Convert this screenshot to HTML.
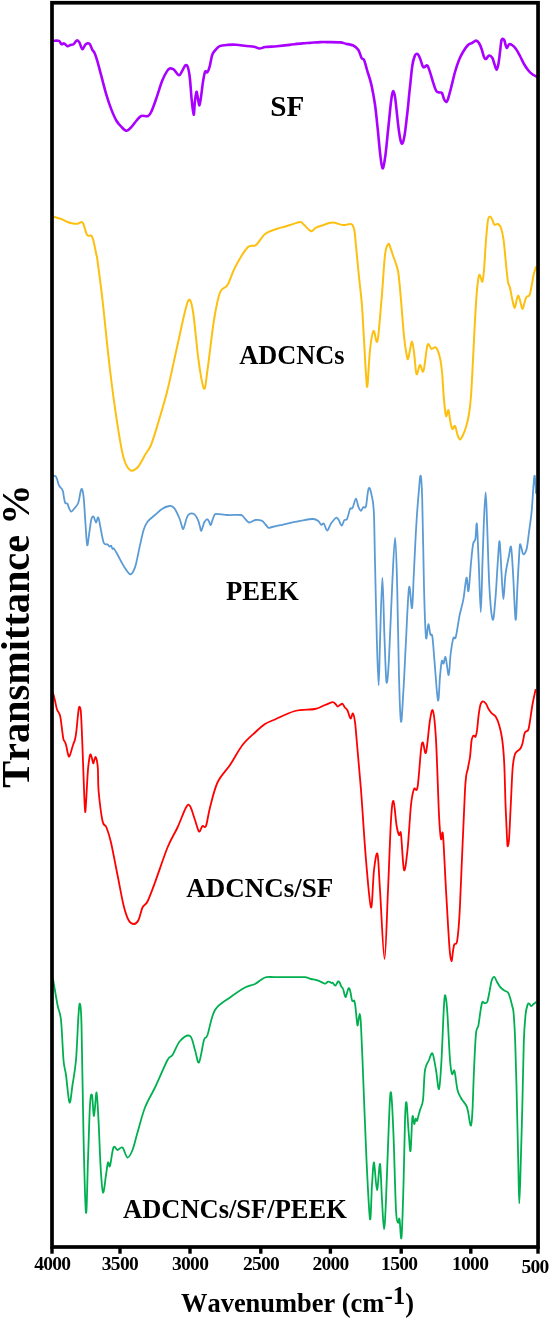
<!DOCTYPE html>
<html><head><meta charset="utf-8"><title>FTIR</title>
<style>
html,body{margin:0;padding:0;background:#fff;}
body{width:550px;height:1320px;overflow:hidden;}
svg{display:block;}
text{font-family:"Liberation Serif",serif;font-weight:bold;fill:#000;font-kerning:none;}
.c{fill:none;stroke-linejoin:round;stroke-linecap:round;}
</style></head><body>
<svg width="550" height="1320" viewBox="0 0 550 1320">
<rect x="0" y="0" width="550" height="1320" fill="#fff"/>
<path class="c" d="M53.0,40.9C54.0,40.9 57.6,40.3 59.0,40.9C60.4,41.5 60.6,43.8 61.5,44.2C62.4,44.6 63.1,43.1 64.1,43.4C65.1,43.7 66.3,46.0 67.4,46.2C68.5,46.5 69.5,45.2 70.5,44.9C71.5,44.6 72.5,45.0 73.5,44.2C74.5,43.5 75.8,40.7 76.8,40.4C77.8,40.1 78.5,40.9 79.4,42.4C80.3,43.9 81.4,49.0 82.4,49.3C83.5,49.6 84.5,45.1 85.7,44.2C86.9,43.3 88.4,42.9 89.5,43.7C90.6,44.6 91.2,47.7 92.1,49.3C92.9,50.9 93.8,51.2 94.6,53.1C95.4,55.0 96.1,57.1 97.2,60.7C98.3,64.3 99.5,69.2 101.0,74.7C102.5,80.2 104.4,88.1 106.1,93.8C107.8,99.5 109.5,104.6 111.2,109.1C112.9,113.5 114.6,117.5 116.3,120.5C118.0,123.5 119.7,125.2 121.4,126.9C123.1,128.6 124.8,130.7 126.5,130.7C128.2,130.7 129.8,128.6 131.5,126.9C133.2,125.2 135.0,122.3 136.6,120.5C138.2,118.7 139.3,116.8 141.2,116.0C143.1,115.2 146.3,116.9 148.1,116.0C149.9,115.1 150.4,113.7 151.9,110.4C153.4,107.1 155.3,101.3 157.0,96.4C158.7,91.5 160.4,85.3 162.1,81.1C163.8,76.8 165.8,73.0 167.2,70.9C168.5,68.8 169.1,68.6 170.2,68.4C171.3,68.2 172.4,68.5 173.8,69.6C175.2,70.7 177.5,75.0 178.9,75.2C180.3,75.4 181.1,72.6 182.2,70.9C183.3,69.2 184.4,65.9 185.3,65.3C186.2,64.7 187.0,64.9 187.8,67.1C188.6,69.3 189.3,73.2 189.9,78.5C190.5,83.8 191.0,92.9 191.6,98.9C192.2,104.9 193.1,114.3 193.7,114.7C194.2,115.1 194.4,105.3 194.9,101.5C195.4,97.7 196.0,92.2 196.5,91.8C197.0,91.4 197.5,96.7 198.0,98.9C198.5,101.2 199.0,105.7 199.5,105.3C200.0,104.9 200.5,100.4 201.1,96.4C201.7,92.4 202.4,85.2 203.1,81.1C203.8,77.0 204.4,73.2 205.1,71.7C205.8,70.2 206.7,73.0 207.4,72.2C208.1,71.4 208.7,69.9 209.5,67.1C210.3,64.3 211.2,58.3 212.0,55.6C212.8,52.9 213.2,52.7 214.5,51.1C215.8,49.5 217.5,47.2 219.6,46.2C221.7,45.2 224.5,45.1 227.3,44.9C230.1,44.6 233.0,44.5 236.2,44.7C239.4,44.9 243.4,45.7 246.4,46.0C249.4,46.3 251.8,46.3 254.0,46.7C256.2,47.1 257.7,48.5 259.6,48.5C261.5,48.5 262.6,47.4 265.5,47.0C268.4,46.6 272.9,46.6 276.9,46.2C280.9,45.9 285.4,45.4 289.6,44.9C293.9,44.4 299.0,43.7 302.4,43.4C305.8,43.1 307.0,43.1 310.0,42.9C313.0,42.7 316.8,42.2 320.2,42.1C323.6,42.0 327.0,42.1 330.4,42.1C333.8,42.1 338.0,42.1 340.5,42.4C343.0,42.7 343.5,43.2 345.6,43.7C347.7,44.2 351.2,44.5 353.3,45.5C355.4,46.5 357.0,47.9 358.4,50.0C359.8,52.1 360.7,56.5 361.7,58.2C362.7,59.9 363.3,58.1 364.2,60.2C365.1,62.3 366.1,67.0 367.3,70.9C368.5,74.8 369.8,78.1 371.1,83.6C372.4,89.1 373.8,96.8 374.9,104.0C376.0,111.2 376.6,118.8 377.5,126.9C378.4,135.0 379.2,145.5 380.0,152.4C380.8,159.3 381.6,167.6 382.5,168.4C383.4,169.2 384.2,163.2 385.1,157.5C386.0,151.8 386.8,142.6 387.6,134.5C388.5,126.4 389.5,115.7 390.2,109.1C390.9,102.5 391.4,98.1 392.0,95.1C392.6,92.1 392.9,90.7 393.5,91.3C394.1,91.9 394.6,93.8 395.3,98.9C396.0,104.0 397.0,115.0 397.8,121.8C398.6,128.6 399.6,136.0 400.4,139.6C401.2,143.2 401.7,144.3 402.4,143.5C403.1,142.7 403.9,139.4 404.7,134.5C405.5,129.6 406.3,121.8 407.2,114.2C408.1,106.6 408.9,96.8 409.8,88.7C410.7,80.6 411.5,71.3 412.3,65.8C413.1,60.3 414.0,57.6 414.9,55.6C415.8,53.6 416.5,53.5 417.4,53.9C418.2,54.3 419.0,56.0 420.0,58.2C421.0,60.4 422.1,65.9 423.3,67.1C424.5,68.3 426.1,64.7 427.1,65.3C428.2,65.9 428.5,67.9 429.6,70.9C430.7,74.0 432.4,80.2 433.5,83.6C434.6,87.0 435.4,89.8 436.5,91.3C437.6,92.8 438.9,92.2 439.8,92.5C440.7,92.8 441.3,91.9 442.0,93.0C442.7,94.1 443.3,97.5 444.0,99.0C444.7,100.5 445.3,102.0 446.0,102.0C446.7,102.0 447.2,101.3 448.0,99.0C448.8,96.7 449.8,92.5 451.0,88.0C452.2,83.5 453.7,76.7 455.0,72.0C456.3,67.3 457.7,63.3 459.0,60.0C460.3,56.7 461.5,54.5 463.0,52.0C464.5,49.5 466.5,46.5 468.0,45.0C469.5,43.5 470.7,43.7 472.0,43.0C473.3,42.3 474.8,40.6 476.0,40.6C477.2,40.6 478.1,41.6 479.0,43.0C479.9,44.4 480.8,46.7 481.6,49.0C482.4,51.3 483.3,55.3 484.0,57.0C484.7,58.7 485.2,59.2 486.0,59.0C486.8,58.8 487.9,55.8 489.0,55.6C490.1,55.4 491.5,56.6 492.4,58.0C493.3,59.4 493.7,62.1 494.4,64.0C495.1,65.9 495.9,69.6 496.6,69.6C497.3,69.6 497.8,66.9 498.4,64.0C499.0,61.1 499.5,56.0 500.0,52.0C500.5,48.0 500.9,42.1 501.6,40.0C502.3,37.9 503.3,38.8 504.0,39.6C504.7,40.4 505.1,43.6 505.6,45.0C506.1,46.4 506.4,48.1 507.0,48.0C507.6,47.9 508.2,44.9 509.0,44.4C509.8,43.9 510.8,44.2 512.0,45.0C513.2,45.8 514.7,47.2 516.0,49.0C517.3,50.8 518.7,53.5 520.0,56.0C521.3,58.5 522.7,61.7 524.0,64.0C525.3,66.3 526.7,68.3 528.0,70.0C529.3,71.7 530.6,72.9 532.0,74.0C533.4,75.1 535.7,76.2 536.4,76.6" stroke="#AA00FF" stroke-width="2.6"/>
<path class="c" d="M53.0,216.5C54.6,217.0 60.2,218.7 62.5,219.6C64.8,220.5 65.3,221.2 66.8,221.8C68.3,222.4 69.9,222.9 71.7,223.2C73.5,223.5 76.1,223.9 77.7,223.7C79.3,223.5 80.6,222.1 81.5,222.1C82.4,222.1 82.7,222.4 83.2,223.5C83.8,224.6 84.2,226.5 84.8,228.4C85.4,230.3 86.4,233.7 87.0,234.9C87.6,236.1 88.0,235.7 88.6,235.8C89.2,235.9 90.1,235.2 90.8,235.5C91.5,235.8 92.0,236.2 92.5,237.6C93.0,238.9 93.5,240.8 94.1,243.6C94.7,246.4 95.8,251.8 96.3,254.5C96.8,257.2 96.4,252.4 97.4,260.0C98.4,267.6 100.4,281.7 102.5,300.0C104.6,318.3 107.5,349.2 110.0,370.0C112.5,390.8 115.2,410.4 117.5,425.0C119.8,439.6 121.4,450.0 123.5,457.5C125.6,465.0 127.7,468.3 130.0,470.0C132.3,471.7 135.0,470.0 137.5,467.5C140.0,465.0 142.8,458.8 145.0,455.0C147.2,451.2 148.9,450.0 151.0,445.0C153.1,440.0 154.8,434.2 157.5,425.0C160.2,415.8 164.2,403.3 167.5,390.0C170.8,376.7 174.4,358.8 177.5,345.0C180.6,331.2 183.9,315.0 186.0,307.5C188.1,300.0 188.8,298.8 190.0,300.0C191.2,301.2 192.1,305.0 193.5,315.0C194.9,325.0 196.8,347.8 198.5,360.0C200.2,372.2 202.5,386.8 204.0,388.5C205.5,390.2 205.8,381.4 207.5,370.0C209.2,358.6 211.9,332.9 214.0,320.0C216.1,307.1 217.8,298.3 220.0,292.5C222.2,286.7 225.0,289.2 227.5,285.0C230.0,280.8 231.7,273.8 235.0,267.5C238.3,261.2 244.0,251.2 247.5,247.5C251.0,243.8 253.1,247.2 256.0,245.0C258.9,242.8 261.8,236.6 265.0,234.0C268.2,231.4 272.5,230.5 275.0,229.5C277.5,228.5 277.5,228.7 280.0,227.9C282.5,227.2 286.7,226.0 290.0,225.0C293.3,224.0 297.9,222.3 300.0,222.0C302.1,221.7 300.9,221.9 302.7,223.4C304.5,224.9 308.8,230.4 310.9,231.2C313.0,231.9 313.6,228.8 315.5,227.9C317.4,227.0 319.2,226.4 322.0,225.5C324.8,224.6 329.1,222.7 332.5,222.6C335.9,222.5 339.6,224.8 342.5,225.0C345.4,225.2 348.3,224.0 350.0,224.0C351.7,224.0 351.8,223.8 352.5,225.0C353.2,226.2 353.9,227.5 354.5,231.0C355.1,234.5 355.2,238.3 356.0,246.0C356.8,253.7 358.0,267.0 359.0,277.0C360.0,287.0 361.2,295.5 362.0,306.0C362.8,316.5 363.3,328.7 364.0,340.0C364.7,351.3 365.4,366.3 366.0,374.0C366.6,381.7 366.7,390.0 367.4,386.0C368.1,382.0 369.0,359.2 370.0,350.0C371.0,340.8 372.2,332.5 373.5,331.0C374.8,329.5 376.2,346.2 377.5,341.0C378.8,335.8 380.2,314.3 381.5,300.0C382.8,285.7 383.9,264.3 385.0,255.0C386.1,245.7 387.4,245.2 388.3,244.0C389.2,242.8 389.7,246.1 390.5,248.0C391.3,249.9 392.1,252.8 393.0,255.5C393.9,258.2 395.1,260.9 396.0,264.0C396.9,267.1 397.7,268.0 398.5,274.0C399.3,280.0 400.1,289.7 401.0,300.0C401.9,310.3 403.1,327.0 404.0,336.0C404.9,345.0 405.8,350.2 406.5,354.0C407.2,357.8 407.4,359.7 408.0,359.0C408.6,358.3 409.3,352.9 410.0,350.0C410.7,347.1 411.3,341.3 412.0,341.6C412.7,341.9 413.2,346.6 414.0,352.0C414.8,357.4 415.5,371.8 416.5,374.0C417.5,376.2 418.8,365.5 420.0,365.0C421.2,364.5 422.2,374.3 423.5,371.0C424.8,367.7 426.2,348.7 427.5,345.0C428.8,341.3 430.1,348.6 431.5,349.0C432.9,349.4 434.6,346.0 436.0,347.5C437.4,349.0 439.0,353.9 440.0,358.0C441.0,362.1 441.3,365.0 442.0,372.0C442.7,379.0 443.3,392.7 444.0,400.0C444.7,407.3 445.3,414.3 446.0,416.0C446.7,417.7 447.7,409.0 448.4,410.0C449.1,411.0 449.7,418.8 450.4,422.0C451.1,425.2 451.6,428.3 452.4,429.0C453.2,429.7 454.1,425.0 455.0,426.0C455.9,427.0 456.8,432.8 457.6,435.0C458.4,437.2 459.1,439.4 460.0,439.4C460.9,439.4 462.0,437.1 463.0,435.0C464.0,432.9 465.0,430.5 466.0,427.0C467.0,423.5 468.2,419.2 469.0,414.0C469.8,408.8 470.3,405.0 471.0,396.0C471.7,387.0 472.3,372.7 473.0,360.0C473.7,347.3 474.3,331.7 475.0,320.0C475.7,308.3 476.3,297.4 477.0,290.0C477.7,282.6 478.4,277.8 479.0,275.6C479.6,273.4 480.0,276.0 480.6,277.0C481.2,278.0 481.8,282.8 482.4,281.6C483.0,280.4 483.4,276.9 484.0,270.0C484.6,263.1 485.3,248.3 486.0,240.0C486.7,231.7 487.3,223.9 488.0,220.0C488.7,216.1 489.3,216.8 490.0,216.6C490.7,216.4 491.3,217.7 492.0,219.0C492.7,220.3 493.4,223.8 494.4,224.6C495.4,225.4 496.9,223.4 498.0,224.0C499.1,224.6 500.1,225.3 501.0,228.0C501.9,230.7 502.8,234.0 503.6,240.0C504.4,246.0 505.3,257.0 506.0,264.0C506.7,271.0 507.3,278.0 508.0,282.0C508.7,286.0 509.3,285.0 510.0,288.0C510.7,291.0 511.6,296.7 512.4,300.0C513.2,303.3 513.9,308.0 514.6,308.0C515.3,308.0 516.0,302.1 516.6,300.0C517.2,297.9 517.8,295.3 518.4,295.6C519.0,295.9 519.7,299.8 520.4,302.0C521.1,304.2 521.7,308.8 522.4,309.0C523.1,309.2 523.7,305.0 524.4,303.0C525.1,301.0 525.5,298.3 526.4,297.0C527.3,295.7 528.7,296.8 529.6,295.0C530.5,293.2 530.9,289.3 531.6,286.0C532.3,282.7 532.9,278.2 533.6,275.0C534.3,271.8 535.6,268.3 536.0,267.0" stroke="#FDC010" stroke-width="2"/>
<path class="c" d="M53.0,475.8C53.4,475.9 54.7,475.6 55.4,476.1C56.1,476.6 56.5,477.6 57.0,479.0C57.5,480.4 58.1,483.1 58.6,484.5C59.1,485.9 59.8,486.6 60.3,487.3C60.8,488.0 61.4,488.2 61.9,488.9C62.4,489.6 62.6,490.1 63.0,491.6C63.4,493.2 63.7,496.3 64.1,498.2C64.5,500.1 64.7,502.1 65.2,503.0C65.8,503.9 66.8,502.8 67.4,503.6C68.0,504.4 68.4,506.7 69.0,508.0C69.6,509.3 70.2,511.6 71.2,511.6C72.2,511.6 73.5,509.4 74.7,508.0C75.9,506.6 77.2,505.7 78.2,503.0C79.2,500.3 79.9,494.3 80.5,492.0C81.1,489.7 81.5,488.1 82.0,489.1C82.5,490.1 83.1,492.0 83.7,497.8C84.3,503.6 84.9,516.1 85.5,524.0C86.1,531.9 86.6,543.8 87.2,545.2C87.8,546.7 88.6,537.0 89.3,532.7C90.0,528.4 90.6,522.3 91.3,519.6C92.0,516.9 92.8,516.2 93.6,516.7C94.4,517.2 95.2,522.4 96.0,522.5C96.8,522.6 97.5,516.4 98.3,517.6C99.1,518.8 100.0,525.6 100.9,529.8C101.8,534.0 102.7,540.5 103.8,542.9C104.9,545.3 106.7,543.8 107.6,544.4C108.5,545.0 108.7,546.3 109.3,546.5C109.9,546.7 110.6,545.4 111.1,545.8C111.6,546.2 112.0,548.3 112.5,548.8C113.0,549.3 113.2,547.8 114.0,548.7C114.8,549.7 116.3,552.3 117.5,554.5C118.7,556.7 120.0,559.4 121.3,561.8C122.6,564.2 124.1,567.0 125.6,569.1C127.0,571.2 128.8,573.8 130.0,574.3C131.2,574.8 131.9,573.6 132.9,572.0C133.9,570.4 134.6,569.3 135.8,564.7C137.0,560.1 138.9,550.2 140.2,544.4C141.5,538.6 142.5,533.6 143.7,529.8C144.9,526.0 145.7,524.1 147.5,521.7C149.3,519.3 152.3,517.4 154.7,515.3C157.1,513.2 159.6,510.4 162.0,508.9C164.4,507.3 167.5,506.3 169.3,506.0C171.1,505.7 172.0,506.3 173.0,507.0C174.0,507.7 174.4,508.1 175.5,510.0C176.6,511.9 178.5,516.0 179.5,518.5C180.5,521.0 180.9,523.2 181.5,525.0C182.1,526.8 182.6,529.4 183.2,529.2C183.8,529.0 184.4,525.9 185.0,524.0C185.6,522.1 186.0,519.6 186.7,518.0C187.4,516.4 187.8,514.9 189.0,514.2C190.2,513.5 192.5,513.1 194.0,514.0C195.5,514.9 196.8,517.6 197.8,519.6C198.8,521.6 199.2,524.1 199.8,526.0C200.4,527.9 200.6,531.3 201.3,530.7C202.0,530.1 203.3,524.4 204.2,522.5C205.1,520.6 206.0,519.5 206.8,519.3C207.6,519.0 208.2,520.0 208.8,521.0C209.5,522.0 210.1,525.3 210.7,525.2C211.3,525.1 211.8,522.0 212.3,520.5C212.9,519.0 213.3,517.1 214.0,516.0C214.7,514.9 214.0,514.0 216.3,513.8C218.6,513.6 223.6,514.8 227.7,515.0C231.8,515.2 238.1,514.6 240.8,515.0C243.5,515.4 242.7,516.4 244.1,517.6C245.5,518.9 247.1,522.1 249.0,522.5C250.9,522.9 253.3,520.3 255.5,520.0C257.7,519.7 260.4,520.1 262.1,520.9C263.8,521.6 264.4,523.4 265.5,524.5C266.6,525.6 267.5,527.4 268.6,527.8C269.7,528.2 270.1,527.4 272.0,527.0C273.9,526.6 277.1,525.9 280.1,525.2C283.2,524.5 286.5,523.7 290.3,522.9C294.1,522.1 299.2,520.9 303.0,520.3C306.8,519.6 310.6,518.9 313.2,519.0C315.8,519.1 316.9,520.1 318.3,521.1C319.7,522.1 320.4,524.5 321.3,524.9C322.2,525.3 322.9,522.7 323.9,523.6C324.9,524.5 326.0,530.5 327.2,530.5C328.4,530.5 329.5,525.7 331.0,523.6C332.5,521.5 334.8,518.4 336.1,517.8C337.4,517.2 337.7,518.5 338.6,519.8C339.5,521.1 340.8,525.6 341.7,525.7C342.6,525.8 343.3,521.4 344.2,520.3C345.1,519.2 346.0,520.9 347.0,519.0C348.0,517.1 349.2,510.8 350.1,508.9C351.0,507.0 351.6,509.6 352.6,507.9C353.6,506.2 354.9,498.8 355.9,498.7C356.9,498.6 357.6,505.1 358.5,507.1C359.4,509.1 360.2,510.9 361.0,510.9C361.8,510.9 362.5,507.8 363.3,507.1C364.1,506.4 365.1,509.2 365.9,506.6C366.7,504.1 367.3,494.9 367.9,491.8C368.5,488.7 368.8,487.4 369.4,488.0C370.0,488.6 371.0,491.8 371.7,495.6C372.4,499.4 373.2,499.9 373.8,510.9C374.4,521.9 374.5,540.6 375.0,561.8C375.5,583.0 376.2,617.6 376.8,638.2C377.4,658.8 378.1,685.3 378.6,685.3C379.2,685.3 379.5,656.2 380.1,638.2C380.7,620.2 381.7,577.6 382.4,577.6C383.1,577.6 383.8,620.8 384.5,638.2C385.2,655.6 385.8,678.8 386.5,682.2C387.2,685.6 388.1,674.3 389.0,658.5C389.9,642.7 391.1,607.4 392.1,587.3C393.1,567.1 394.2,537.6 395.1,537.6C396.0,537.6 396.6,564.2 397.2,587.3C397.8,610.4 398.4,654.0 399.0,676.4C399.6,698.8 400.2,719.6 401.0,721.7C401.8,723.8 402.6,703.0 403.5,689.1C404.4,675.2 405.2,655.2 406.1,638.2C407.0,621.2 408.1,592.3 409.1,587.3C410.1,582.3 411.2,610.2 412.0,608.1C412.8,606.0 413.1,588.6 413.8,574.5C414.5,560.4 415.5,537.6 416.4,523.6C417.2,509.6 418.2,498.5 418.9,490.5C419.6,482.5 420.1,474.5 420.7,475.8C421.2,477.1 421.6,479.6 422.2,498.2C422.8,516.8 423.4,564.1 424.0,587.3C424.6,610.5 425.3,631.2 426.0,637.4C426.7,643.5 427.6,624.7 428.3,624.2C429.0,623.7 429.7,632.3 430.4,634.4C431.1,636.5 431.7,632.0 432.4,636.9C433.1,641.8 433.8,653.0 434.7,663.6C435.6,674.2 437.1,698.4 438.0,700.5C438.9,702.6 439.4,683.0 440.0,676.4C440.6,669.8 441.2,663.2 441.8,661.1C442.4,659.0 443.0,664.2 443.6,663.6C444.2,663.0 444.8,655.4 445.6,657.3C446.5,659.2 447.9,675.7 448.7,675.1C449.5,674.5 449.9,659.6 450.7,653.5C451.5,647.4 452.4,641.0 453.3,638.2C454.2,635.4 454.8,640.7 455.8,636.9C456.9,633.1 458.3,621.7 459.6,615.3C460.9,608.9 462.4,605.0 463.5,598.7C464.6,592.4 465.7,578.9 466.5,577.6C467.3,576.3 467.7,593.7 468.5,591.1C469.3,588.5 470.3,569.6 471.1,561.8C471.9,553.9 472.4,547.8 473.1,544.0C473.8,540.2 474.8,542.2 475.4,538.9C476.0,535.6 476.3,520.3 476.9,524.1C477.4,527.9 478.0,547.1 478.7,561.8C479.4,576.5 480.2,612.2 480.8,612.2C481.4,612.2 482.0,576.6 482.5,561.8C483.0,547.0 483.3,535.2 483.8,523.6C484.3,512.0 485.1,492.3 485.6,492.3C486.2,492.3 486.5,507.8 487.1,523.6C487.7,539.4 488.5,571.3 489.4,587.3C490.3,603.3 491.7,617.5 492.7,619.6C493.7,621.7 494.4,609.6 495.3,600.0C496.2,590.4 497.1,571.5 497.8,561.8C498.5,552.0 499.0,539.4 499.6,541.5C500.2,543.6 501.0,564.9 501.6,574.5C502.2,584.1 502.8,599.2 503.4,599.2C504.0,599.2 504.6,581.6 505.5,574.5C506.4,567.4 507.9,561.3 508.8,556.7C509.7,552.1 510.4,544.1 511.1,547.1C511.8,550.1 512.4,562.4 513.1,574.5C513.9,586.6 514.9,617.5 515.6,619.6C516.3,621.7 516.8,599.0 517.4,587.3C518.0,575.5 519.0,556.1 519.5,549.1C520.0,542.1 520.1,544.4 520.7,545.3C521.3,546.1 522.3,553.6 523.3,554.2C524.3,554.8 525.6,552.9 526.6,549.1C527.6,545.3 528.2,537.7 529.1,531.3C530.0,524.9 531.0,518.5 531.7,510.9C532.4,503.3 533.0,491.4 533.5,485.5C534.0,479.6 534.3,474.6 534.7,475.8C535.1,477.1 535.8,490.1 536.0,493.0" stroke="#5B9BD5" stroke-width="1.8"/>
<path class="c" d="M53.0,693.0C53.1,693.4 53.3,693.8 53.7,695.4C54.1,697.0 54.9,700.1 55.4,702.5C55.9,704.9 56.4,707.7 57.0,709.5C57.6,711.3 58.7,712.2 59.2,713.4C59.8,714.6 59.9,714.8 60.3,716.6C60.7,718.4 61.0,721.6 61.4,724.3C61.8,727.0 62.1,730.5 62.5,733.0C62.9,735.5 63.0,738.0 63.5,739.5C64.0,741.0 64.7,741.2 65.2,742.3C65.7,743.4 65.9,744.6 66.3,746.1C66.7,747.6 67.0,749.8 67.4,751.5C67.8,753.2 68.3,756.0 68.8,756.5C69.2,757.0 69.6,756.0 70.1,754.8C70.6,753.6 71.2,751.2 71.7,749.4C72.2,747.6 72.9,745.5 73.4,743.9C74.0,742.2 74.5,741.7 75.0,739.5C75.5,737.3 76.0,734.4 76.4,730.8C76.9,727.2 77.3,721.4 77.7,717.7C78.1,714.0 78.5,710.3 78.8,708.5C79.1,706.7 79.4,706.5 79.7,706.8C80.0,707.1 80.4,707.4 80.7,710.1C81.0,712.8 81.2,716.5 81.5,723.2C81.8,729.9 82.3,742.3 82.6,750.5C82.9,758.7 83.1,764.5 83.4,772.3C83.7,780.0 84.0,790.4 84.3,797.0C84.6,803.6 84.9,811.5 85.2,812.0C85.5,812.5 85.8,806.6 86.2,800.0C86.6,793.4 87.3,778.7 87.8,772.3C88.2,765.9 88.6,764.2 88.9,761.4C89.2,758.6 89.6,756.5 89.9,755.4C90.2,754.3 90.5,754.1 90.8,754.6C91.1,755.1 91.5,756.7 91.9,758.1C92.3,759.5 92.8,763.1 93.2,763.3C93.7,763.5 94.2,760.2 94.6,759.2C95.0,758.2 95.3,756.8 95.7,757.0C96.1,757.2 96.4,758.3 96.8,760.3C97.2,762.3 97.6,764.0 97.9,769.0C98.2,774.0 97.9,781.3 98.5,790.0C99.3,798.7 101.2,814.8 102.5,821.0C103.8,827.2 105.1,823.9 106.5,827.5C107.9,831.1 109.2,834.6 111.0,842.5C112.8,850.4 115.4,864.6 117.5,875.0C119.6,885.4 121.7,897.5 123.5,905.0C125.3,912.5 126.8,916.8 128.5,920.0C130.2,923.2 132.3,924.0 134.0,924.0C135.7,924.0 137.1,922.8 138.5,920.0C139.9,917.2 141.0,910.6 142.5,907.5C144.0,904.4 145.4,905.7 147.5,901.5C149.6,897.3 151.7,891.5 155.0,882.5C158.3,873.5 163.8,856.7 167.5,847.5C171.2,838.3 174.4,834.2 177.5,827.5C180.6,820.8 183.9,811.1 186.0,807.5C188.1,803.9 188.5,803.9 190.0,806.0C191.5,808.1 193.5,815.8 195.0,820.0C196.5,824.2 197.8,830.5 199.0,831.5C200.2,832.5 201.3,826.9 202.5,826.0C203.7,825.1 204.8,829.1 206.0,826.0C207.2,822.9 208.1,814.8 210.0,807.5C211.9,800.2 214.2,789.6 217.5,782.5C220.8,775.4 225.8,771.2 230.0,765.0C234.2,758.8 238.3,750.4 242.5,745.0C246.7,739.6 251.2,736.0 255.0,732.5C258.8,729.0 261.7,726.2 265.0,724.0C268.3,721.8 270.0,721.7 275.0,719.5C280.0,717.3 288.3,712.8 295.0,711.0C301.7,709.2 310.0,710.0 315.0,709.0C320.0,708.0 322.1,706.1 325.0,705.0C327.9,703.9 330.8,702.4 332.5,702.2C334.2,702.0 334.7,703.3 335.5,704.0C336.3,704.7 336.8,706.3 337.5,706.5C338.2,706.7 339.2,705.5 340.0,705.0C340.8,704.5 341.8,703.5 342.5,703.8C343.2,704.1 343.7,705.9 344.5,707.0C345.3,708.1 346.5,708.6 347.5,710.5C348.5,712.4 349.6,718.0 350.5,718.5C351.4,719.0 352.2,712.8 353.0,713.4C353.8,714.0 354.4,717.9 355.0,722.0C355.6,726.1 355.5,726.7 356.5,738.0C357.5,749.3 359.4,769.7 361.0,790.0C362.6,810.3 364.3,840.4 366.0,860.0C367.7,879.6 369.7,905.8 371.0,907.5C372.3,909.2 372.9,878.9 374.0,870.0C375.1,861.1 376.5,850.7 377.5,854.0C378.5,857.3 378.8,872.5 380.0,890.0C381.2,907.5 383.2,959.0 384.5,959.0C385.8,959.0 386.9,913.2 388.0,890.0C389.1,866.8 390.1,834.8 391.0,820.0C391.9,805.2 392.6,800.2 393.5,801.0C394.4,801.8 395.6,819.3 396.5,825.0C397.4,830.7 398.2,833.5 399.0,835.0C399.8,836.5 400.2,828.2 401.0,834.0C401.8,839.8 402.9,867.3 404.0,870.0C405.1,872.7 406.3,860.8 407.5,850.0C408.7,839.2 409.9,815.2 411.0,805.0C412.1,794.8 412.9,791.9 414.0,789.0C415.1,786.1 416.3,794.0 417.5,787.5C418.7,781.0 420.1,757.5 421.0,750.0C421.9,742.5 422.2,742.1 423.0,742.5C423.8,742.9 424.8,756.2 426.0,752.5C427.2,748.8 428.8,726.9 430.0,720.0C431.2,713.1 432.0,707.7 433.0,711.0C434.0,714.3 435.0,722.7 436.0,740.0C437.0,757.3 438.2,798.5 439.0,815.0C439.8,831.5 440.3,835.7 441.0,839.0C441.7,842.3 442.2,826.5 443.0,835.0C443.8,843.5 444.9,871.2 446.0,890.0C447.1,908.8 448.6,936.2 449.5,948.0C450.4,959.8 450.9,960.5 451.5,961.0C452.1,961.5 452.5,953.8 453.0,951.0C453.5,948.2 453.7,945.8 454.3,944.5C454.9,943.2 456.0,944.8 456.6,943.0C457.2,941.2 457.4,940.3 458.0,934.0C458.6,927.7 458.8,929.0 460.0,905.0C461.2,881.0 463.7,812.8 465.0,790.0C466.3,767.2 467.2,773.5 468.0,768.0C468.8,762.5 469.4,761.5 470.0,757.0C470.6,752.5 471.0,744.5 471.5,741.0C472.0,737.5 472.4,737.2 472.9,736.3C473.4,735.4 474.0,735.7 474.4,735.8C474.8,735.9 475.1,737.6 475.5,736.8C475.9,735.9 476.5,734.4 477.0,730.7C477.5,727.0 478.1,719.1 478.7,714.7C479.3,710.3 479.8,706.7 480.5,704.5C481.2,702.3 482.2,701.4 483.1,701.3C484.0,701.2 485.0,702.4 486.0,703.8C487.0,705.2 487.9,708.0 488.9,709.6C489.9,711.2 490.6,712.1 491.8,713.3C493.0,714.5 494.7,715.0 495.9,716.9C497.1,718.8 498.1,721.4 499.1,724.9C500.1,728.4 501.1,731.7 502.0,738.0C502.9,744.3 503.6,751.3 504.2,762.7C504.8,774.1 505.1,793.5 505.6,806.4C506.1,819.2 506.7,833.1 507.1,839.8C507.5,846.5 507.5,846.4 507.8,846.4C508.1,846.4 508.5,846.5 509.0,839.8C509.5,833.1 510.1,818.0 510.7,806.4C511.3,794.8 511.9,778.4 512.5,770.0C513.1,761.6 513.7,759.2 514.4,756.2C515.1,753.2 515.5,753.0 516.5,751.8C517.5,750.6 519.2,750.2 520.2,748.9C521.2,747.6 521.7,746.3 522.4,743.8C523.1,741.2 523.9,735.6 524.5,733.6C525.1,731.6 525.4,732.1 526.0,731.5C526.6,730.9 527.6,731.3 528.2,730.0C528.8,728.7 528.9,727.8 529.6,723.5C530.3,719.2 531.5,710.1 532.5,704.5C533.5,698.9 535.0,692.4 535.5,690.0" stroke="#FF0000" stroke-width="1.8"/>
<path class="c" d="M53.0,979.0C53.8,983.3 56.2,998.2 57.5,1005.0C58.8,1011.8 60.0,1010.8 61.0,1020.0C62.0,1029.2 62.7,1050.8 63.5,1060.0C64.3,1069.2 65.0,1067.9 66.0,1075.0C67.0,1082.1 68.4,1100.8 69.5,1102.5C70.6,1104.2 71.4,1092.1 72.5,1085.0C73.6,1077.9 75.0,1071.7 76.0,1060.0C77.0,1048.3 77.8,1024.3 78.5,1015.0C79.2,1005.7 79.5,1002.3 80.0,1004.0C80.5,1005.7 80.9,1003.2 81.5,1025.0C82.1,1046.8 82.8,1103.8 83.5,1135.0C84.2,1166.2 85.2,1208.3 86.0,1212.5C86.8,1216.7 87.3,1177.9 88.0,1160.0C88.7,1142.1 89.3,1115.8 90.0,1105.0C90.7,1094.2 91.3,1093.2 92.0,1095.0C92.7,1096.8 93.2,1116.4 94.0,1116.0C94.8,1115.6 95.8,1091.8 96.5,1092.5C97.2,1093.2 97.8,1107.9 98.5,1120.0C99.2,1132.1 99.8,1152.9 100.5,1165.0C101.2,1177.1 102.1,1190.8 103.0,1192.5C103.9,1194.2 105.2,1180.0 106.0,1175.0C106.8,1170.0 107.3,1164.0 108.0,1162.5C108.7,1161.0 109.1,1168.5 110.0,1166.0C110.9,1163.5 112.2,1150.2 113.5,1147.5C114.8,1144.8 116.0,1150.0 117.5,1150.0C119.0,1150.0 120.8,1146.2 122.5,1147.5C124.2,1148.8 125.8,1157.1 127.5,1157.5C129.2,1157.9 130.8,1154.2 132.5,1150.0C134.2,1145.8 135.4,1139.6 137.5,1132.5C139.6,1125.4 142.1,1115.0 145.0,1107.5C147.9,1100.0 151.2,1095.4 155.0,1087.5C158.8,1079.6 164.6,1065.4 167.5,1060.0C170.4,1054.6 170.4,1058.2 172.5,1055.0C174.6,1051.8 177.1,1044.2 180.0,1041.0C182.9,1037.8 187.5,1034.5 190.0,1036.0C192.5,1037.5 193.5,1045.6 195.0,1050.0C196.5,1054.4 197.5,1064.2 199.0,1062.5C200.5,1060.8 202.6,1044.6 204.0,1040.0C205.4,1035.4 205.7,1040.0 207.5,1035.0C209.3,1030.0 211.2,1016.2 215.0,1010.0C218.8,1003.8 225.0,1001.2 230.0,997.5C235.0,993.8 240.8,989.8 245.0,987.5C249.2,985.2 251.7,985.7 255.0,984.0C258.3,982.3 261.7,978.6 265.0,977.5C268.3,976.4 269.2,977.2 275.0,977.1C280.8,977.0 295.0,977.1 300.0,977.1C305.0,977.1 303.2,976.9 305.0,977.2C306.8,977.5 309.3,978.6 311.0,979.0C312.7,979.4 313.6,979.4 315.0,979.7C316.4,980.1 317.8,980.5 319.4,981.1C320.9,981.7 323.2,983.1 324.3,983.5C325.4,983.9 325.3,983.6 325.9,983.3C326.5,983.0 327.5,981.8 328.1,981.6C328.7,981.4 329.1,981.7 329.7,981.9C330.2,982.1 330.9,982.9 331.4,983.0C331.9,983.1 332.1,982.3 332.7,982.8C333.3,983.2 334.5,985.6 335.2,985.7C335.9,985.8 336.3,984.2 336.8,983.5C337.3,982.8 337.7,981.6 338.1,981.4C338.6,981.2 339.0,981.4 339.5,982.2C340.0,983.0 340.6,985.2 341.2,986.3C341.8,987.4 342.6,987.6 343.1,989.0C343.7,990.4 344.1,993.2 344.5,994.5C344.9,995.8 345.4,997.4 345.8,997.0C346.2,996.6 346.8,993.7 347.2,992.3C347.6,990.9 347.9,989.4 348.3,988.8C348.7,988.2 349.0,987.9 349.4,988.5C349.8,989.1 350.1,990.4 350.5,992.3C350.9,994.2 351.4,998.4 351.9,999.9C352.3,1001.4 352.8,1001.1 353.2,1001.2C353.6,1001.4 353.9,999.9 354.3,1000.8C354.7,1001.7 355.0,1003.7 355.4,1006.5C355.8,1009.3 356.1,1014.2 356.5,1017.4C356.9,1020.6 357.1,1025.2 357.5,1025.5C357.9,1025.8 358.2,1021.5 358.6,1019.5C359.0,1017.5 359.4,1013.8 359.7,1013.8C360.0,1013.8 360.3,1016.0 360.6,1019.5C360.9,1023.0 361.1,1028.2 361.4,1035.0C361.7,1041.8 361.6,1039.2 362.5,1060.0C363.4,1080.8 365.2,1133.5 366.5,1160.0C367.8,1186.5 369.1,1214.8 370.0,1219.0C370.9,1223.2 371.3,1194.4 372.0,1185.0C372.7,1175.6 373.2,1161.7 374.0,1162.5C374.8,1163.3 376.0,1189.8 377.0,1190.0C378.0,1190.2 379.2,1162.3 380.0,1164.0C380.8,1165.7 381.3,1189.2 382.0,1200.0C382.7,1210.8 383.3,1229.0 384.0,1229.0C384.7,1229.0 385.2,1218.2 386.0,1200.0C386.8,1181.8 388.2,1137.9 389.0,1120.0C389.8,1102.1 390.2,1090.0 391.0,1092.5C391.8,1095.0 392.7,1115.4 393.5,1135.0C394.3,1154.6 395.2,1195.4 396.0,1210.0C396.8,1224.6 397.4,1221.0 398.0,1222.5C398.6,1224.0 398.9,1216.5 399.5,1219.0C400.1,1221.5 400.8,1243.2 401.5,1237.5C402.2,1231.8 402.9,1204.6 403.5,1185.0C404.1,1165.4 404.5,1133.8 405.0,1120.0C405.5,1106.2 405.9,1100.8 406.5,1102.5C407.1,1104.2 407.8,1121.9 408.5,1130.0C409.2,1138.1 409.9,1153.2 410.5,1151.0C411.1,1148.8 411.8,1121.5 412.4,1117.0C413.0,1112.5 413.7,1123.7 414.2,1124.0C414.7,1124.3 415.2,1119.2 415.6,1118.7C416.1,1118.2 416.5,1121.2 416.9,1121.0C417.3,1120.8 417.5,1119.4 418.0,1117.6C418.5,1115.8 419.2,1112.9 420.0,1110.0C420.8,1107.1 422.2,1106.7 423.0,1100.0C423.8,1093.3 424.0,1076.7 425.0,1070.0C426.0,1063.3 427.8,1062.8 429.0,1060.0C430.2,1057.2 431.3,1051.8 432.5,1053.5C433.7,1055.2 434.9,1064.1 436.0,1070.0C437.1,1075.9 438.1,1090.7 439.0,1089.0C439.9,1087.3 440.7,1074.0 441.5,1060.0C442.3,1046.0 443.3,1015.7 444.0,1005.0C444.7,994.3 444.9,994.3 445.5,996.0C446.1,997.7 446.8,1004.3 447.5,1015.0C448.2,1025.7 449.2,1050.2 450.0,1060.0C450.8,1069.8 451.2,1072.2 452.0,1074.0C452.8,1075.8 453.6,1068.3 454.5,1071.0C455.4,1073.7 456.4,1085.5 457.5,1090.0C458.6,1094.5 460.1,1096.2 461.0,1098.0C461.9,1099.8 462.1,1099.7 463.0,1101.0C463.9,1102.3 465.6,1104.1 466.5,1106.0C467.4,1107.9 467.5,1109.1 468.2,1112.4C468.9,1115.7 469.9,1125.5 470.6,1125.7C471.3,1125.9 471.8,1122.3 472.3,1113.4C472.9,1104.5 473.3,1085.8 473.9,1072.5C474.5,1059.2 475.2,1041.4 476.0,1033.6C476.8,1025.8 477.6,1029.3 478.4,1025.5C479.1,1021.7 479.9,1014.9 480.5,1011.0C481.1,1007.1 481.6,1003.5 482.3,1002.2C483.0,1000.9 483.7,1003.0 484.5,1003.0C485.3,1003.0 486.3,1004.0 487.2,1002.0C488.1,1000.0 488.9,994.3 489.7,990.7C490.4,987.1 490.9,982.8 491.7,980.5C492.5,978.2 493.5,976.8 494.4,977.0C495.2,977.2 495.9,979.9 496.8,981.5C497.7,983.1 498.7,985.1 499.9,986.6C501.1,988.1 502.6,989.3 504.0,990.3C505.4,991.3 507.1,991.5 508.1,992.7C509.1,994.0 509.4,995.6 510.1,997.8C510.8,1000.0 511.6,1003.5 512.2,1006.0C512.8,1008.5 513.1,1007.0 513.6,1013.0C514.1,1019.0 514.7,1026.8 515.2,1041.8C515.8,1056.8 516.4,1082.5 516.9,1103.0C517.4,1123.5 517.9,1147.8 518.3,1164.5C518.7,1181.2 518.9,1203.4 519.3,1203.4C519.7,1203.4 520.2,1181.2 520.7,1164.5C521.2,1147.8 521.9,1123.5 522.4,1103.0C522.9,1082.5 523.3,1056.4 523.8,1041.8C524.3,1027.2 524.9,1021.3 525.5,1015.2C526.1,1009.1 526.9,1006.9 527.5,1005.0C528.1,1003.1 528.5,1003.4 529.1,1003.6C529.7,1003.8 530.5,1005.9 531.2,1006.0C532.0,1006.1 532.9,1004.6 533.6,1004.0C534.4,1003.4 535.4,1002.6 535.7,1002.3" stroke="#00B050" stroke-width="1.8"/>
<rect x="52" y="2.75" width="486.05" height="1244.25" fill="none" stroke="#000" stroke-width="3.7"/>
<line x1="52.0" y1="1246.8" x2="52.0" y2="1253.7" stroke="#000" stroke-width="3.4"/>
<line x1="120.0" y1="1246.8" x2="120.0" y2="1253.7" stroke="#000" stroke-width="3.4"/>
<line x1="190.0" y1="1246.8" x2="190.0" y2="1253.7" stroke="#000" stroke-width="3.4"/>
<line x1="260.8" y1="1246.8" x2="260.8" y2="1253.7" stroke="#000" stroke-width="3.4"/>
<line x1="330.4" y1="1246.8" x2="330.4" y2="1253.7" stroke="#000" stroke-width="3.4"/>
<line x1="401.2" y1="1246.8" x2="401.2" y2="1253.7" stroke="#000" stroke-width="3.4"/>
<line x1="470.8" y1="1246.8" x2="470.8" y2="1253.7" stroke="#000" stroke-width="3.4"/>
<line x1="538" y1="1246.8" x2="538" y2="1253.7" stroke="#000" stroke-width="3.4"/>
<text x="52.3" y="1270" font-size="19.5" letter-spacing="-0.7" text-anchor="middle">4000</text>
<text x="119.9" y="1270" font-size="19.5" letter-spacing="-0.7" text-anchor="middle">3500</text>
<text x="190.1" y="1270" font-size="19.5" letter-spacing="-0.7" text-anchor="middle">3000</text>
<text x="261.0" y="1270" font-size="19.5" letter-spacing="-0.7" text-anchor="middle">2500</text>
<text x="330.5" y="1270" font-size="19.5" letter-spacing="-0.7" text-anchor="middle">2000</text>
<text x="399.2" y="1270" font-size="19.5" letter-spacing="-0.7" text-anchor="middle">1500</text>
<text x="470.1" y="1270" font-size="19.5" letter-spacing="-0.7" text-anchor="middle">1000</text>
<text x="535" y="1272.5" font-size="19.5" letter-spacing="-0.7" text-anchor="middle">500</text>
<text id="t1" x="270.3" y="116" font-size="29.2">SF</text>
<text id="t2" x="239.2" y="364.3" font-size="26.3">ADCNCs</text>
<text id="t3" x="226" y="600" font-size="26.7">PEEK</text>
<text id="t4" x="186.3" y="896.9" font-size="27">ADCNCs/SF</text>
<text id="t5" x="123" y="1218" font-size="26.5">ADCNCs/SF/PEEK</text>
<text id="t6" x="181" y="1312" font-size="26.45">Wavenumber (cm<tspan dy="-8.4" font-size="25">-1</tspan><tspan dy="8.4">)</tspan></text>
<text transform="translate(29.2,787.8) rotate(-90)" font-size="40.3">Transmittance %</text>
</svg></body></html>
